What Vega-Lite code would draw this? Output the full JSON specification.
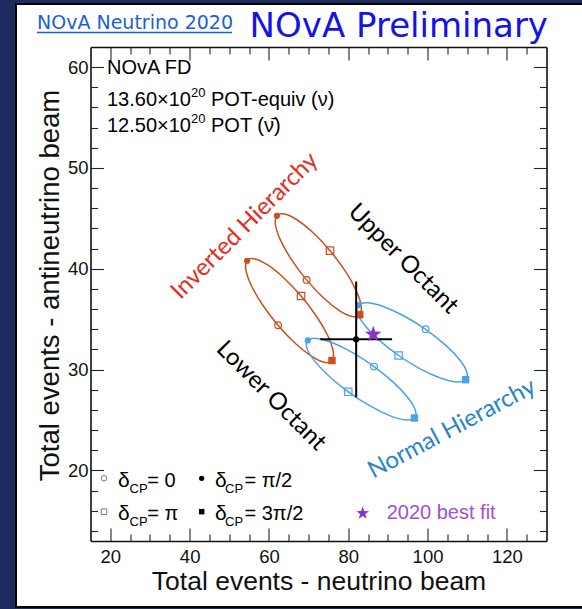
{
  "$schema": "https://vega.github.io/schema/vega-lite/v6.json",
  "width": 456,
  "height": 494,
  "autosize": {"type": "none"},
  "padding": {"left": 90.5, "top": 47, "right": 35.5, "bottom": 68},
  "background": "#1d2c5e",
  "datasets": {
    "ellipses": [
      {"h": "IH", "oct": "UO", "i": 0, "x": 69.50, "y": 38.90},
      {"h": "IH", "oct": "UO", "i": 1, "x": 65.72, "y": 40.89},
      {"h": "IH", "oct": "UO", "i": 2, "x": 62.98, "y": 42.79},
      {"h": "IH", "oct": "UO", "i": 3, "x": 61.66, "y": 44.32},
      {"h": "IH", "oct": "UO", "i": 4, "x": 62.00, "y": 45.25},
      {"h": "IH", "oct": "UO", "i": 5, "x": 63.92, "y": 45.43},
      {"h": "IH", "oct": "UO", "i": 6, "x": 67.15, "y": 44.84},
      {"h": "IH", "oct": "UO", "i": 7, "x": 71.17, "y": 43.57},
      {"h": "IH", "oct": "UO", "i": 8, "x": 75.40, "y": 41.80},
      {"h": "IH", "oct": "UO", "i": 9, "x": 79.18, "y": 39.81},
      {"h": "IH", "oct": "UO", "i": 10, "x": 81.92, "y": 37.91},
      {"h": "IH", "oct": "UO", "i": 11, "x": 83.24, "y": 36.38},
      {"h": "IH", "oct": "UO", "i": 12, "x": 82.90, "y": 35.45},
      {"h": "IH", "oct": "UO", "i": 13, "x": 80.98, "y": 35.27},
      {"h": "IH", "oct": "UO", "i": 14, "x": 77.75, "y": 35.86},
      {"h": "IH", "oct": "UO", "i": 15, "x": 73.73, "y": 37.13},
      {"h": "IH", "oct": "LO", "i": 0, "x": 62.30, "y": 34.40},
      {"h": "IH", "oct": "LO", "i": 1, "x": 58.42, "y": 36.41},
      {"h": "IH", "oct": "LO", "i": 2, "x": 55.59, "y": 38.32},
      {"h": "IH", "oct": "LO", "i": 3, "x": 54.20, "y": 39.87},
      {"h": "IH", "oct": "LO", "i": 4, "x": 54.50, "y": 40.80},
      {"h": "IH", "oct": "LO", "i": 5, "x": 56.42, "y": 40.98},
      {"h": "IH", "oct": "LO", "i": 6, "x": 59.69, "y": 40.38},
      {"h": "IH", "oct": "LO", "i": 7, "x": 63.78, "y": 39.09},
      {"h": "IH", "oct": "LO", "i": 8, "x": 68.10, "y": 37.30},
      {"h": "IH", "oct": "LO", "i": 9, "x": 71.98, "y": 35.29},
      {"h": "IH", "oct": "LO", "i": 10, "x": 74.82, "y": 33.38},
      {"h": "IH", "oct": "LO", "i": 11, "x": 76.20, "y": 31.83},
      {"h": "IH", "oct": "LO", "i": 12, "x": 75.90, "y": 30.90},
      {"h": "IH", "oct": "LO", "i": 13, "x": 73.98, "y": 30.72},
      {"h": "IH", "oct": "LO", "i": 14, "x": 70.72, "y": 31.33},
      {"h": "IH", "oct": "LO", "i": 15, "x": 66.62, "y": 32.61},
      {"h": "NH", "oct": "LO", "i": 0, "x": 86.50, "y": 30.30},
      {"h": "NH", "oct": "LO", "i": 1, "x": 81.10, "y": 31.68},
      {"h": "NH", "oct": "LO", "i": 2, "x": 76.04, "y": 32.66},
      {"h": "NH", "oct": "LO", "i": 3, "x": 72.07, "y": 33.09},
      {"h": "NH", "oct": "LO", "i": 4, "x": 69.80, "y": 32.90},
      {"h": "NH", "oct": "LO", "i": 5, "x": 69.58, "y": 32.13},
      {"h": "NH", "oct": "LO", "i": 6, "x": 71.44, "y": 30.89},
      {"h": "NH", "oct": "LO", "i": 7, "x": 75.10, "y": 29.37},
      {"h": "NH", "oct": "LO", "i": 8, "x": 80.00, "y": 27.80},
      {"h": "NH", "oct": "LO", "i": 9, "x": 85.40, "y": 26.42},
      {"h": "NH", "oct": "LO", "i": 10, "x": 90.46, "y": 25.44},
      {"h": "NH", "oct": "LO", "i": 11, "x": 94.43, "y": 25.01},
      {"h": "NH", "oct": "LO", "i": 12, "x": 96.70, "y": 25.20},
      {"h": "NH", "oct": "LO", "i": 13, "x": 96.92, "y": 25.97},
      {"h": "NH", "oct": "LO", "i": 14, "x": 95.06, "y": 27.21},
      {"h": "NH", "oct": "LO", "i": 15, "x": 91.40, "y": 28.73},
      {"h": "NH", "oct": "UO", "i": 0, "x": 99.50, "y": 34.00},
      {"h": "NH", "oct": "UO", "i": 1, "x": 94.07, "y": 35.32},
      {"h": "NH", "oct": "UO", "i": 2, "x": 88.96, "y": 36.24},
      {"h": "NH", "oct": "UO", "i": 3, "x": 84.93, "y": 36.62},
      {"h": "NH", "oct": "UO", "i": 4, "x": 82.60, "y": 36.40},
      {"h": "NH", "oct": "UO", "i": 5, "x": 82.32, "y": 35.62},
      {"h": "NH", "oct": "UO", "i": 6, "x": 84.15, "y": 34.40},
      {"h": "NH", "oct": "UO", "i": 7, "x": 87.79, "y": 32.92},
      {"h": "NH", "oct": "UO", "i": 8, "x": 92.70, "y": 31.40},
      {"h": "NH", "oct": "UO", "i": 9, "x": 98.13, "y": 30.08},
      {"h": "NH", "oct": "UO", "i": 10, "x": 103.24, "y": 29.17},
      {"h": "NH", "oct": "UO", "i": 11, "x": 107.27, "y": 28.78},
      {"h": "NH", "oct": "UO", "i": 12, "x": 109.60, "y": 29.00},
      {"h": "NH", "oct": "UO", "i": 13, "x": 109.88, "y": 29.78},
      {"h": "NH", "oct": "UO", "i": 14, "x": 108.05, "y": 31.00},
      {"h": "NH", "oct": "UO", "i": 15, "x": 104.41, "y": 32.48}
    ],
    "measured": [
      {"x": 82, "y": 33, "xlo": 72.94, "xhi": 91.06, "ylo": 27.26, "yhi": 38.74}
    ],
    "bestfit": [
      {"x": 86.3, "y": 33.5}
    ]
  },
  "layer": [
    {
      "data": {"values": [{}]},
      "layer": [
        {
          "mark": {"type": "rect", "color": "white", "stroke": "black", "strokeWidth": 2, "opacity": 1},
          "encoding": {
            "x": {"datum": -3.79, "type": "quantitative", "scale": {"domain": [15, 130], "nice": false, "zero": false}},
            "x2": {"datum": 141},
            "y": {"datum": 66.27, "type": "quantitative", "scale": {"domain": [13, 62], "nice": false, "zero": false}},
            "y2": {"datum": 6.45}
          }
        },
        {
          "data": {"name": "ellipses"},
          "encoding": {
            "x": {
              "field": "x",
              "type": "quantitative",
              "scale": {"domain": [15, 130], "nice": false, "zero": false},
              "axis": {
                "orient": "bottom",
                "zindex": 2,
                "title": "Total events - neutrino beam",
                "titleFontSize": 26.5,
                "values": [20, 40, 60, 80, 100, 120],
                "tickSize": -13,
                "labelPadding": 19.4,
                "titlePadding": 3
              }
            },
            "y": {
              "field": "y",
              "type": "quantitative",
              "scale": {"domain": [13, 62], "nice": false, "zero": false},
              "axis": {
                "orient": "left",
                "zindex": 2,
                "title": "Total events - antineutrino beam",
                "titleFontSize": 27.5,
                "titleY": 238,
                "values": [20, 30, 40, 50, 60],
                "tickSize": -13,
                "labelPadding": 15.5,
                "titlePadding": 3
              }
            },
            "color": {
              "field": "h",
              "type": "nominal",
              "scale": {"domain": ["IH", "NH"], "range": ["#cc4f1d", "#4ba2e6"]},
              "legend": null
            }
          },
          "layer": [
            {
              "mark": {"type": "line", "interpolate": "cardinal-closed", "strokeWidth": 1.5},
              "encoding": {
                "detail": {"field": "oct", "type": "nominal"},
                "order": {"field": "i", "type": "quantitative"}
              }
            },
            {
              "transform": [{"filter": "datum.i === 0"}],
              "mark": {"type": "point", "shape": "circle", "filled": false, "size": 45, "strokeWidth": 1.2, "opacity": 1}
            },
            {
              "transform": [{"filter": "datum.i === 4"}],
              "mark": {"type": "point", "shape": "circle", "filled": true, "size": 38, "opacity": 1}
            },
            {
              "transform": [{"filter": "datum.i === 8"}],
              "mark": {"type": "point", "shape": "square", "filled": false, "size": 55, "strokeWidth": 1.2, "opacity": 1}
            },
            {
              "transform": [{"filter": "datum.i === 12"}],
              "mark": {"type": "point", "shape": "square", "filled": true, "size": 55, "opacity": 1}
            }
          ]
        },
        {
          "mark": {"type": "text", "text": "NOvA Preliminary", "align": "right", "baseline": "alphabetic", "font": "DejaVu Sans", "fontSize": 34, "color": "#1414e6"},
          "encoding": {"x": {"datum": 130.38}, "y": {"datum": 63.04}}
        },
        {
          "mark": {"type": "text", "text": "NOvA Neutrino 2020", "align": "left", "baseline": "alphabetic", "font": "DejaVu Sans", "fontSize": 19, "color": "#1b5fd6"},
          "encoding": {"x": {"datum": 1.51}, "y": {"datum": 63.74}}
        },
        {
          "mark": {"type": "rule", "color": "#1b5fd6", "strokeWidth": 1.5},
          "encoding": {"x": {"datum": 1.51}, "x2": {"datum": 50.69}, "y": {"datum": 63.44}}
        },
        {
          "mark": {"type": "text", "text": "NOvA FD", "align": "left", "baseline": "middle", "fontSize": 20, "color": "black"},
          "encoding": {"x": {"datum": 19.16}, "y": {"datum": 59.92}}
        },
        {
          "mark": {"type": "text", "text": "13.60×10", "align": "left", "baseline": "middle", "fontSize": 20, "color": "black"},
          "encoding": {"x": {"datum": 19.16}, "y": {"datum": 56.74}}
        },
        {
          "mark": {"type": "text", "text": "20", "align": "left", "baseline": "middle", "fontSize": 13, "color": "black"},
          "encoding": {"x": {"datum": 40.35}, "y": {"datum": 57.44}}
        },
        {
          "mark": {"type": "text", "text": "POT-equiv (ν)", "align": "left", "baseline": "middle", "fontSize": 20, "color": "black"},
          "encoding": {"x": {"datum": 45.39}, "y": {"datum": 56.74}}
        },
        {
          "mark": {"type": "text", "text": "12.50×10", "align": "left", "baseline": "middle", "fontSize": 20, "color": "black"},
          "encoding": {"x": {"datum": 19.16}, "y": {"datum": 54.16}}
        },
        {
          "mark": {"type": "text", "text": "20", "align": "left", "baseline": "middle", "fontSize": 13, "color": "black"},
          "encoding": {"x": {"datum": 40.35}, "y": {"datum": 54.86}}
        },
        {
          "mark": {"type": "text", "text": "POT (ν̄)", "align": "left", "baseline": "middle", "fontSize": 20, "color": "black"},
          "encoding": {"x": {"datum": 45.39}, "y": {"datum": 54.16}}
        },
        {
          "mark": {"type": "text", "text": "Inverted Hierarchy", "align": "center", "baseline": "middle", "angle": -45, "font": "Lato", "fontSize": 24, "color": "#e62b22"},
          "encoding": {"x": {"datum": 53.96}, "y": {"datum": 44.24}}
        },
        {
          "mark": {"type": "text", "text": "Upper Octant", "align": "center", "baseline": "middle", "angle": 45, "font": "Lato", "fontSize": 24, "color": "black"},
          "encoding": {"x": {"datum": 93.81}, "y": {"datum": 40.97}}
        },
        {
          "mark": {"type": "text", "text": "Lower Octant", "align": "center", "baseline": "middle", "angle": 45, "font": "Lato", "fontSize": 24, "color": "black"},
          "encoding": {"x": {"datum": 60.52}, "y": {"datum": 27.38}}
        },
        {
          "mark": {"type": "text", "text": "Normal Hierarchy", "align": "center", "baseline": "middle", "angle": -28, "font": "Lato", "fontSize": 24, "color": "#2a84c8"},
          "encoding": {"x": {"datum": 106.17}, "y": {"datum": 24.11}}
        },
        {
          "mark": {"type": "point", "shape": "circle", "filled": false, "color": "#777777", "size": 30, "strokeWidth": 1, "opacity": 1},
          "encoding": {"x": {"datum": 18.4}, "y": {"datum": 19.22}}
        },
        {
          "mark": {"type": "point", "shape": "square", "filled": false, "color": "#777777", "size": 30, "strokeWidth": 1, "opacity": 1},
          "encoding": {"x": {"datum": 18.4}, "y": {"datum": 15.91}}
        },
        {
          "mark": {"type": "point", "shape": "circle", "filled": true, "color": "black", "size": 28, "opacity": 1},
          "encoding": {"x": {"datum": 43.04}, "y": {"datum": 19.22}}
        },
        {
          "mark": {"type": "point", "shape": "square", "filled": true, "color": "black", "size": 30, "opacity": 1},
          "encoding": {"x": {"datum": 43.04}, "y": {"datum": 15.91}}
        },
        {
          "mark": {"type": "text", "text": "δ", "align": "left", "baseline": "alphabetic", "fontSize": 21, "color": "black"},
          "encoding": {"x": {"datum": 21.94}, "y": {"datum": 18.36}}
        },
        {
          "mark": {"type": "text", "text": "CP", "align": "left", "baseline": "alphabetic", "fontSize": 13, "color": "black"},
          "encoding": {"x": {"datum": 24.84}, "y": {"datum": 17.77}}
        },
        {
          "mark": {"type": "text", "text": "= 0", "align": "left", "baseline": "alphabetic", "fontSize": 20, "color": "black"},
          "encoding": {"x": {"datum": 29.31}, "y": {"datum": 18.36}}
        },
        {
          "mark": {"type": "text", "text": "δ", "align": "left", "baseline": "alphabetic", "fontSize": 21, "color": "black"},
          "encoding": {"x": {"datum": 21.94}, "y": {"datum": 15.04}}
        },
        {
          "mark": {"type": "text", "text": "CP", "align": "left", "baseline": "alphabetic", "fontSize": 13, "color": "black"},
          "encoding": {"x": {"datum": 24.84}, "y": {"datum": 14.45}}
        },
        {
          "mark": {"type": "text", "text": "= π", "align": "left", "baseline": "alphabetic", "fontSize": 20, "color": "black"},
          "encoding": {"x": {"datum": 29.31}, "y": {"datum": 15.04}}
        },
        {
          "mark": {"type": "text", "text": "δ", "align": "left", "baseline": "alphabetic", "fontSize": 21, "color": "black"},
          "encoding": {"x": {"datum": 46.4}, "y": {"datum": 18.36}}
        },
        {
          "mark": {"type": "text", "text": "CP", "align": "left", "baseline": "alphabetic", "fontSize": 13, "color": "black"},
          "encoding": {"x": {"datum": 48.95}, "y": {"datum": 17.77}}
        },
        {
          "mark": {"type": "text", "text": "= π/2", "align": "left", "baseline": "alphabetic", "fontSize": 20, "color": "black"},
          "encoding": {"x": {"datum": 53.84}, "y": {"datum": 18.36}}
        },
        {
          "mark": {"type": "text", "text": "δ", "align": "left", "baseline": "alphabetic", "fontSize": 21, "color": "black"},
          "encoding": {"x": {"datum": 46.4}, "y": {"datum": 15.04}}
        },
        {
          "mark": {"type": "text", "text": "CP", "align": "left", "baseline": "alphabetic", "fontSize": 13, "color": "black"},
          "encoding": {"x": {"datum": 48.95}, "y": {"datum": 14.45}}
        },
        {
          "mark": {"type": "text", "text": "= 3π/2", "align": "left", "baseline": "alphabetic", "fontSize": 20, "color": "black"},
          "encoding": {"x": {"datum": 53.84}, "y": {"datum": 15.04}}
        },
        {
          "mark": {"type": "point", "shape": "M0,-1L0.235,-0.324L0.951,-0.309L0.38,0.124L0.588,0.809L0,0.4L-0.588,0.809L-0.38,0.124L-0.951,-0.309L-0.235,-0.324Z", "filled": true, "color": "#8b32c8", "size": 180, "opacity": 1},
          "encoding": {"x": {"datum": 83.65}, "y": {"datum": 15.75}}
        },
        {
          "mark": {"type": "text", "text": "2020 best fit", "align": "left", "baseline": "middle", "fontSize": 20, "color": "#a24fd3"},
          "encoding": {"x": {"datum": 89.7}, "y": {"datum": 15.78}}
        }
      ]
    },
    {
      "data": {"name": "measured"},
      "mark": {"type": "rule", "color": "black", "strokeWidth": 2},
      "encoding": {
        "x": {
          "field": "xlo",
          "type": "quantitative",
          "scale": {"domain": [15, 130], "nice": false, "zero": false},
          "axis": {"orient": "top", "zindex": 2, "labels": false, "title": null, "values": [20, 40, 60, 80, 100, 120], "tickSize": -13}
        },
        "x2": {"field": "xhi"},
        "y": {
          "field": "y",
          "type": "quantitative",
          "scale": {"domain": [13, 62], "nice": false, "zero": false},
          "axis": {"orient": "right", "zindex": 2, "labels": false, "title": null, "values": [20, 30, 40, 50, 60], "tickSize": -13}
        }
      }
    },
    {
      "data": {"name": "measured"},
      "mark": {"type": "rule", "color": "black", "strokeWidth": 2},
      "encoding": {
        "x": {
          "field": "x",
          "type": "quantitative",
          "scale": {"domain": [15, 130], "nice": false, "zero": false},
          "axis": {"orient": "bottom", "zindex": 2, "labels": false, "title": null, "domain": false, "values": [25, 30, 35, 45, 50, 55, 65, 70, 75, 85, 90, 95, 105, 110, 115, 125], "tickSize": -7}
        },
        "y": {
          "field": "ylo",
          "type": "quantitative",
          "scale": {"domain": [13, 62], "nice": false, "zero": false},
          "axis": {"orient": "left", "zindex": 2, "labels": false, "title": null, "domain": false, "values": [14, 16, 18, 22, 24, 26, 28, 32, 34, 36, 38, 42, 44, 46, 48, 52, 54, 56, 58], "tickSize": -7}
        },
        "y2": {"field": "yhi"}
      }
    },
    {
      "data": {"name": "measured"},
      "mark": {"type": "point", "shape": "circle", "filled": true, "color": "black", "size": 40, "opacity": 1},
      "encoding": {
        "x": {
          "field": "x",
          "type": "quantitative",
          "scale": {"domain": [15, 130], "nice": false, "zero": false},
          "axis": {"orient": "top", "zindex": 2, "labels": false, "title": null, "domain": false, "values": [25, 30, 35, 45, 50, 55, 65, 70, 75, 85, 90, 95, 105, 110, 115, 125], "tickSize": -7}
        },
        "y": {
          "field": "y",
          "type": "quantitative",
          "scale": {"domain": [13, 62], "nice": false, "zero": false},
          "axis": {"orient": "right", "zindex": 2, "labels": false, "title": null, "domain": false, "values": [14, 16, 18, 22, 24, 26, 28, 32, 34, 36, 38, 42, 44, 46, 48, 52, 54, 56, 58], "tickSize": -7}
        }
      }
    },
    {
      "data": {"name": "bestfit"},
      "mark": {"type": "point", "shape": "M0,-1L0.235,-0.324L0.951,-0.309L0.38,0.124L0.588,0.809L0,0.4L-0.588,0.809L-0.38,0.124L-0.951,-0.309L-0.235,-0.324Z", "filled": true, "color": "#8b32c8", "size": 300, "opacity": 1},
      "encoding": {
        "x": {"field": "x", "type": "quantitative", "scale": {"domain": [15, 130], "nice": false, "zero": false}, "axis": null},
        "y": {"field": "y", "type": "quantitative", "scale": {"domain": [13, 62], "nice": false, "zero": false}, "axis": null}
      }
    }
  ],
  "resolve": {"axis": {"x": "independent", "y": "independent"}},
  "config": {
    "view": {"stroke": null},
    "font": "Liberation Sans",
    "axis": {
      "grid": false,
      "domainColor": "#111111",
      "domainWidth": 1.6,
      "tickColor": "#222222",
      "tickWidth": 1.1,
      "labelFont": "Liberation Sans",
      "labelFontSize": 18.5,
      "labelColor": "#111111",
      "titleFont": "Liberation Sans",
      "titleFontSize": 26,
      "titleFontWeight": "normal",
      "titleColor": "#111111",
      "labelOverlap": false,
      "labelFlush": false
    }
  }
}
